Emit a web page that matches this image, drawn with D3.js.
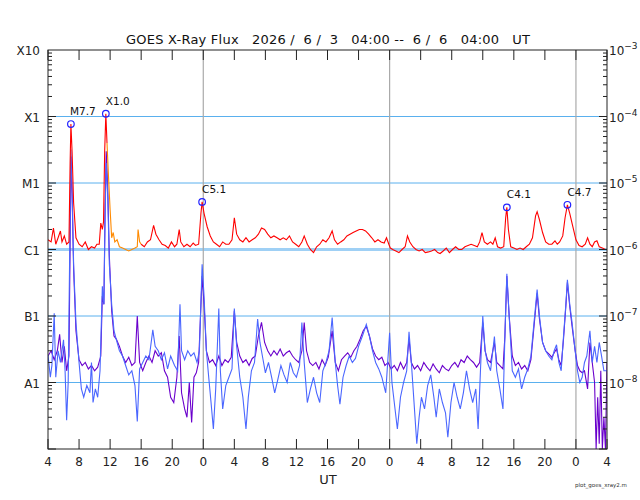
<!DOCTYPE html>
<html><head><meta charset="utf-8">
<script src="https://cdn.jsdelivr.net/npm/d3@7"></script>
<style>body{margin:0;background:#fff}svg{font-family:"DejaVu Sans",sans-serif}</style>
</head><body><svg id="c" width="640" height="500"></svg>
<script>
// hours from 2026-06-03 04:00 UT ; long channel in units of 1e-6 W/m2
const longRed = [[0,1.4],[0.4,1.3],[0.7,2.1],[1.0,1.2],[1.3,1.5],[1.6,1.9],[1.8,1.3],[2.1,1.6],[2.4,1.2],[2.7,1.3],[2.85,20],[2.95,77],[3.1,30],[3.3,5],[3.6,1.5],[4.0,1.2],[4.4,1.1],[4.8,1.3],[5.2,1.0],[5.6,1.1],[6.0,1.05],[6.3,1.2],[6.6,1.2],[6.8,2.5],[7.0,2.0],[7.15,2.6],[7.3,30],[7.45,110],[7.6,40],[7.7,null],
[12.0,1.2],[12.4,1.1],[12.8,1.3],[13.2,1.4],[13.6,2.3],[13.9,1.7],[14.3,1.4],[14.7,1.2],[15.1,1.15],[15.5,1.05],[15.9,1.3],[16.3,1.1],[16.6,1.2],[16.9,2.0],[17.1,1.3],[17.5,1.1],[17.9,1.2],[18.3,1.1],[18.7,1.25],[19.0,1.15],[19.4,1.2],[19.7,3.5],[19.85,5.2],[20.1,3.5],[20.5,2.2],[20.9,1.6],[21.3,1.3],[21.7,1.2],[22.1,1.1],[22.5,1.3],[22.9,1.2],[23.3,1.2],[23.7,1.4],[24.0,3.0],[24.3,1.7],[24.7,1.4],[25.1,1.3],[25.5,1.5],[25.9,1.3],[26.3,1.4],[26.7,1.5],[27.1,1.7],[27.5,2.1],[27.9,2.0],[28.3,1.7],[28.7,1.5],[29.1,1.6],[29.5,1.5],[29.9,1.4],[30.3,1.5],[30.7,1.4],[31.1,1.6],[31.5,1.3],[31.9,1.2],[32.3,1.1],[32.7,1.3],[33.0,1.6],[33.4,1.2],[33.8,1.0],[34.2,0.9],[34.6,1.1],[35.0,1.2],[35.4,1.4],[35.8,1.3],[36.2,1.5],[36.6,1.9],[36.9,1.4],[37.3,1.2],[37.7,1.3],[38.1,1.4],[38.5,1.6],[38.9,1.7],[39.3,1.8],[39.7,1.9],[40.1,2.0],[40.5,2.0],[40.9,1.9],[41.3,1.7],[41.7,1.5],[42.1,1.3],[42.5,1.4],[42.9,1.3],[43.3,1.25],[43.6,1.5],[43.9,1.2],[44.1,1.05],[44.4,1.0],[44.8,0.95],[45.2,0.9],[45.6,1.0],[46.0,1.1],[46.3,1.6],[46.6,1.3],[47.0,1.1],[47.4,1.0],[47.8,0.95],[48.2,1.0],[48.6,0.9],[49.0,0.92],[49.4,0.95],[49.8,1.0],[50.2,0.9],[50.5,0.87],[50.9,0.95],[51.3,1.05],[51.7,0.9],[52.1,1.0],[52.5,1.1],[52.9,1.0],[53.3,1.0],[53.7,1.1],[54.1,1.15],[54.5,1.2],[54.9,1.15],[55.3,1.1],[55.6,1.3],[55.9,1.8],[56.2,1.3],[56.6,1.2],[57.0,1.3],[57.3,1.2],[57.6,1.5],[57.9,1.1],[58.3,1.05],[58.7,1.1],[58.95,3.0],[59.1,4.3],[59.3,2.0],[59.6,1.1],[60.0,1.05],[60.4,1.0],[60.8,1.05],[61.2,1.0],[61.6,1.1],[62.0,1.2],[62.4,1.5],[62.8,3.2],[63.0,3.7],[63.3,2.8],[63.7,1.8],[64.1,1.3],[64.5,1.2],[64.9,1.2],[65.3,1.35],[65.6,1.2],[65.9,1.3],[66.3,1.6],[66.6,3.0],[66.9,4.7],[67.2,3.5],[67.6,2.2],[68.0,1.4],[68.4,1.15],[68.8,1.1],[69.2,1.2],[69.5,1.5],[69.8,1.2],[70.1,1.1],[70.4,1.3],[70.7,1.35],[71.0,1.1],[71.4,1.05],[71.8,1.0],[72,1.0]];
const longOrange = [[7.6,40],[7.8,12],[8.0,4],[8.2,1.5],[8.4,1.8],[8.6,1.3],[8.9,1.4],[9.2,1.1],[9.6,1.05],[10,1.0],[10.4,0.95],[10.8,1.0],[11.2,1.05],[11.5,1.1],[11.6,2.0],[11.8,1.3],[12.0,1.2]];
// short channels in units of 1e-8 W/m2
const shortBlue = [[0,2.6],[0.3,1.2],[0.5,1.8],[0.8,11],[1.0,1.2],[1.3,3.0],[1.6,2.0],[2.0,4.4],[2.2,1.5],[2.4,0.27],[2.6,1.0],[2.8,100],[2.95,3200],[3.1,800],[3.3,60],[3.6,8],[4.0,2],[4.3,0.8],[4.6,0.6],[5.0,0.9],[5.4,0.7],[5.6,2.0],[5.8,0.5],[6.1,0.8],[6.4,0.6],[6.7,1.5],[7.0,28],[7.2,15],[7.35,300],[7.5,2000],[7.7,600],[7.9,60],[8.2,15],[8.5,6],[8.8,4.4],[9.2,3],[9.6,2.5],[10.0,1.8],[10.4,1.3],[10.8,1.5],[11.2,0.9],[11.5,0.26],[11.8,1.6],[12.2,2.0],[12.6,2.5],[13.0,2.2],[13.5,6.2],[13.8,3.5],[14.2,3.0],[14.6,2.2],[15.0,2.8],[15.4,1.6],[15.8,2.5],[16.3,1.8],[16.7,1.5],[17.0,15],[17.2,3],[17.6,2.2],[18.0,3.0],[18.4,2.5],[18.8,2.8],[19.2,2.0],[19.5,3],[19.85,60],[20.1,20],[20.4,3],[20.7,1.2],[21.0,0.5],[21.3,0.2],[21.6,0.8],[22.0,13],[22.2,1.5],[22.5,0.4],[22.9,0.9],[23.3,1.2],[23.7,1.6],[24.0,13],[24.3,3.5],[24.7,1.2],[25.1,0.6],[25.5,0.2],[25.8,0.6],[26.2,1.5],[26.6,2.0],[27.0,9],[27.3,4],[27.7,2.2],[28.0,1.4],[28.4,2.0],[28.8,1.2],[29.2,0.7],[29.6,1.1],[30.0,1.8],[30.4,1.3],[30.8,1.0],[31.2,2.0],[31.6,1.4],[32.0,1.2],[32.4,1.8],[32.7,8],[33.0,2.0],[33.4,0.5],[33.8,0.8],[34.2,1.2],[34.6,0.7],[35.0,0.5],[35.4,1.5],[35.8,2.0],[36.2,3.0],[36.6,9.5],[37.0,2.0],[37.3,0.9],[37.6,0.47],[38.0,1.2],[38.4,1.8],[38.8,2.5],[39.2,2.0],[39.6,2.3],[40.0,3.5],[40.5,5.0],[41.0,7.5],[41.4,5],[41.8,3],[42.2,2.0],[42.6,1.6],[43.0,1.2],[43.5,0.7],[44.0,5.6],[44.3,1.0],[44.6,0.5],[45.0,0.2],[45.4,0.6],[45.8,1.0],[46.2,1.5],[46.5,5.8],[46.8,2.0],[47.1,0.6],[47.5,0.12],[47.8,0.3],[48.1,0.6],[48.5,0.4],[48.9,0.9],[49.3,1.3],[49.7,0.6],[50.0,0.3],[50.4,0.8],[50.8,0.5],[51.2,0.35],[51.5,0.15],[51.9,0.5],[52.3,1.0],[52.7,0.6],[53.1,0.4],[53.5,0.7],[53.9,1.5],[54.3,0.8],[54.7,0.5],[55.1,0.8],[55.4,0.2],[55.7,1.5],[56.0,10],[56.3,3],[56.6,2.0],[57.0,1.5],[57.5,4.9],[57.8,1.5],[58.2,0.8],[58.6,0.4],[58.85,5],[59.1,43],[59.4,10],[59.8,1.5],[60.2,1.2],[60.6,1.6],[61.0,0.8],[61.4,1.2],[61.8,1.6],[62.2,2.5],[62.6,8],[63.0,25],[63.3,10],[63.7,4],[64.1,3],[64.5,2.5],[64.9,2.2],[65.2,3.0],[65.5,3.7],[65.8,2.0],[66.1,1.5],[66.4,5],[66.7,15],[66.9,35],[67.2,15],[67.5,8],[67.9,3],[68.2,1.5],[68.5,1.0],[68.8,1.2],[69.1,2.0],[69.4,2.5],[69.8,6],[70.1,2.0],[70.4,3.5],[70.7,2.0],[71.0,4],[71.3,2.5],[71.6,1.5],[72,1.5]];
const shortPurple = [[0,2.5],[0.4,3.0],[0.8,2.2],[1.2,3.0],[1.5,5.3],[1.8,2.0],[2.1,3.5],[2.4,1.5],[2.7,2.5],[2.85,120],[2.95,2500],[3.1,700],[3.3,50],[3.6,6],[4.0,2.2],[4.4,1.8],[4.8,2.0],[5.2,1.6],[5.6,1.8],[6.0,1.5],[6.4,1.7],[6.8,2.5],[7.0,20],[7.2,15],[7.35,400],[7.5,3000],[7.7,800],[7.9,80],[8.2,12],[8.5,5],[8.8,4.5],[9.2,3.5],[9.6,2.5],[10.0,2.0],[10.4,2.4],[10.8,1.8],[11.2,2.0],[11.5,10],[11.8,2.0],[12.2,1.5],[12.6,2.0],[13.0,2.5],[13.4,2.0],[13.8,3.0],[14.2,2.5],[14.6,2.8],[15.0,1.5],[15.4,1.2],[15.8,0.6],[16.2,0.5],[16.6,1.2],[16.9,5.0],[17.2,0.7],[17.6,0.4],[17.9,0.3],[18.2,1.0],[18.5,0.25],[18.8,1.2],[19.1,1.4],[19.4,2.0],[19.85,40],[20.1,15],[20.4,3],[20.8,2.0],[21.2,2.2],[21.6,1.8],[22.0,2.5],[22.4,1.8],[22.8,2.2],[23.2,2.0],[23.6,2.4],[24.0,12],[24.3,4],[24.7,2.5],[25.1,2.0],[25.5,2.2],[25.9,1.8],[26.3,2.3],[26.7,2.5],[27.1,5],[27.5,8],[27.9,4],[28.3,3.0],[28.7,2.5],[29.1,3.0],[29.5,2.6],[29.9,3.2],[30.3,2.5],[30.7,2.8],[31.1,3.0],[31.5,2.5],[31.9,2.2],[32.3,2.0],[32.7,3],[33.0,8],[33.3,3.0],[33.7,2.0],[34.1,1.8],[34.5,2.0],[34.9,1.6],[35.3,2.2],[35.7,1.8],[36.1,2.4],[36.6,6],[37.0,2.0],[37.4,1.5],[37.8,2.2],[38.2,2.5],[38.6,2.8],[39.0,2.4],[39.4,3.0],[39.8,3.5],[40.2,4.5],[40.6,6],[41.0,7],[41.4,5],[41.8,3.2],[42.2,2.5],[42.6,2.2],[43.0,2.4],[43.4,1.8],[43.8,2.0],[44.2,1.6],[44.6,1.8],[45.0,1.5],[45.4,2.0],[45.8,1.6],[46.2,2.0],[46.5,4.5],[46.8,2.0],[47.2,1.6],[47.6,1.8],[48.0,1.5],[48.4,2.0],[48.8,1.7],[49.2,1.5],[49.6,1.9],[50.0,1.6],[50.4,1.4],[50.8,1.8],[51.2,1.6],[51.6,1.5],[52.0,1.8],[52.4,2.0],[52.8,1.7],[53.2,2.2],[53.6,2.0],[54.0,2.5],[54.4,2.2],[54.8,2.0],[55.2,1.7],[55.6,2.0],[56.0,8],[56.3,3],[56.6,2.2],[57.0,2.0],[57.5,4],[57.8,2.0],[58.2,1.8],[58.6,1.6],[58.85,5],[59.1,40],[59.4,10],[59.8,2.5],[60.2,1.8],[60.6,2.0],[61.0,1.6],[61.4,1.8],[61.8,1.5],[62.2,2.2],[62.6,7],[63.0,22],[63.3,9],[63.7,4],[64.1,3],[64.5,2.7],[64.9,2.4],[65.2,2.8],[65.5,3.2],[65.8,2.2],[66.1,1.8],[66.4,4.5],[66.7,14],[66.9,32],[67.2,14],[67.5,7],[67.9,3],[68.2,1.8],[68.5,1.5],[68.8,1.4],[69.1,1.5],[69.5,0.8],[69.8,4],[70.1,2.0],[70.4,1.0],[70.6,0.1],[70.8,0.6],[71.0,0.12],[71.2,1.5],[71.4,0.1],[71.6,0.3],[71.8,0.1],[72,2.0]];
const flares = [["M7.7",2.95,77],["X1.0",7.45,110],["C5.1",19.85,5.2],["C4.1",59.1,4.3],["C4.7",66.9,4.7]];
const xTickLabels = ["4","8","12","16","20","0","4","8","12","16","20","0","4","8","12","16","20","0","4"];
const classLabels = ["X10","X1","M1","C1","B1","A1"];
const title = "GOES X-Ray Flux   2026 /  6 /  3   04:00 --  6 /  6   04:00   UT";

const svg = d3.select("#c");
const L=48,R=607,T=50,B=449;
const x = d3.scaleLinear().domain([0,72]).range([L,R]);
const y = d3.scaleLog().domain([1e-9,1e-3]).range([B,T]);

svg.append("clipPath").attr("id","clip").append("rect").attr("x",L).attr("y",T).attr("width",R-L).attr("height",B-T);
[1e-4,1e-5,1e-7,1e-8].forEach(v=>svg.append("line").attr("x1",L).attr("x2",R).attr("y1",y(v)).attr("y2",y(v)).attr("stroke","#5ab0ee").attr("stroke-width",1));
svg.append("line").attr("x1",L).attr("x2",R).attr("y1",y(1e-6)).attr("y2",y(1e-6)).attr("stroke","#9fd0f5").attr("stroke-width",3);
[20,44,68].forEach(h=>svg.append("line").attr("x1",x(h)).attr("x2",x(h)).attr("y1",T).attr("y2",B).attr("stroke","#aaa").attr("stroke-width",1.2));

const g = svg.append("g").attr("clip-path","url(#clip)");
const line = s => d3.line().defined(d=>d[1]!=null).x(d=>x(d[0])).y(d=>y(Math.max(d[1]*s,5e-10)));
g.append("path").datum(shortPurple).attr("d",line(1e-8)).attr("fill","none").attr("stroke","#6a00cc").attr("stroke-width",1.1);
g.append("path").datum(shortBlue).attr("d",line(1e-8)).attr("fill","none").attr("stroke","#4a66ff").attr("stroke-width",1.1);
g.append("path").datum(longOrange).attr("d",line(1e-6)).attr("fill","none").attr("stroke","#ff8a00").attr("stroke-width",1.1);
g.append("path").datum(longRed).attr("d",line(1e-6)).attr("fill","none").attr("stroke","#ff0000").attr("stroke-width",1.1);

svg.append("rect").attr("x",L).attr("y",T).attr("width",R-L).attr("height",B-T).attr("fill","none").attr("stroke","#222").attr("stroke-width",1);
const xt = d3.range(0,73,4);
xt.forEach((h,i)=>{
  svg.append("line").attr("x1",x(h)).attr("x2",x(h)).attr("y1",T).attr("y2",T+10).attr("stroke","#222");
  svg.append("line").attr("x1",x(h)).attr("x2",x(h)).attr("y1",B).attr("y2",B-10).attr("stroke","#222");
  svg.append("text").attr("x",x(h)).attr("y",B+17).attr("text-anchor","middle").attr("font-size",12).attr("fill","#222").text(xTickLabels[i]);
});
svg.append("text").attr("x",328).attr("y",484).attr("text-anchor","middle").attr("font-size",13).attr("fill","#222").text("UT");
for(let e=-9;e<-3;e++){for(let m=1;m<10;m++){const v=m*Math.pow(10,e);const len=m==1?8:4;
  svg.append("line").attr("x1",L).attr("x2",L+len).attr("y1",y(v)).attr("y2",y(v)).attr("stroke","#222");
  svg.append("line").attr("x1",R).attr("x2",R-len).attr("y1",y(v)).attr("y2",y(v)).attr("stroke","#222");}}
classLabels.forEach((lab,i)=>{
  svg.append("text").attr("x",40).attr("y",y(Math.pow(10,-3-i))+5).attr("text-anchor","end").attr("font-size",12).attr("fill","#222").text(lab);
  const t=svg.append("text").attr("x",R+2).attr("y",y(Math.pow(10,-3-i))+5).attr("font-size",12).attr("fill","#222");
  t.append("tspan").text("10");
  t.append("tspan").attr("dy",-6).attr("font-size",9).text("\u2212"+(3+i));
});
svg.append("text").attr("x",126).attr("y",44).attr("font-size",13).attr("fill","#111")
  .attr("textLength",404).attr("lengthAdjust","spacing").style("white-space","pre").text(title);
flares.forEach(f=>{
  svg.append("circle").attr("cx",x(f[1])).attr("cy",y(f[2]*1e-6)).attr("r",3.3).attr("fill","none").attr("stroke","#2222ff").attr("stroke-width",1.2);
  svg.append("text").attr("x",x(f[1])+(f[0]=="M7.7"?-1:0)).attr("y",y(f[2]*1e-6)-9).attr("font-size",10.5).attr("fill","#111").text(f[0]);
});
svg.append("text").attr("x",575).attr("y",487).attr("font-size",5.5).attr("fill","#333").text("plot_goes_xray2.m");
</script></body></html>
